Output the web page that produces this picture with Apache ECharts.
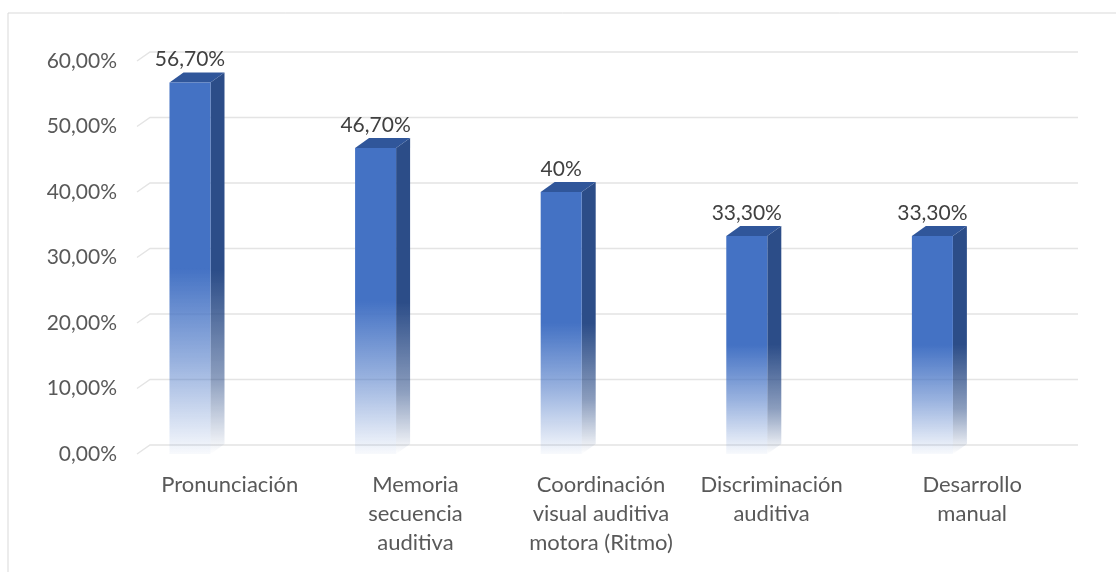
<!DOCTYPE html>
<html><head><meta charset="utf-8">
<script src="https://cdn.jsdelivr.net/npm/echarts@6/dist/echarts.min.js"></script>
<style>html,body{margin:0;padding:0;background:#fff}#c{width:1116px;height:572px}</style>
</head><body><div id="c"></div>
<script>
const categories = ['Pronunciación', 'Memoria\nsecuencia\nauditiva', 'Coordinación\nvisual auditiva\nmotora (Ritmo)', 'Discriminación\nauditiva', 'Desarrollo\nmanual'];
const values = [56.7, 46.7, 40, 33.3, 33.3];
const valueLabels = ['56,70%', '46,70%', '40%', '33,30%', '33,30%'];
const yTicks = [0, 10, 20, 30, 40, 50, 60];

const FONT = 'Lato, "Open Sans", sans-serif';
const DX = 14, DY = -10;

const catData = categories.map((c, i) => i === 3 ? {value: c, textStyle: {padding: [0, 30, 0, 0]}} : c);

const chart = echarts.init(document.getElementById('c'), null, {renderer: 'canvas'});
chart.setOption({
  animation: false,
  graphic: [{type: 'rect', shape: {x: 8, y: 13, width: 1200, height: 700}, style: {fill: 'none', stroke: '#d9d9d9', lineWidth: 1}, silent: true, z: -10}],
  grid: {left: 137, right: 51, top: 61, bottom: 118},
  xAxis: {
    type: 'category', data: catData,
    axisLine: {show: false}, axisTick: {show: false},
    axisLabel: {color: '#595959', fontFamily: FONT, fontSize: 22, lineHeight: 29, margin: 16, interval: 0}
  },
  yAxis: {
    type: 'value', min: 0, max: 60, interval: 10,
    axisLine: {show: false}, axisTick: {show: false}, splitLine: {show: false},
    axisLabel: {color: '#595959', fontFamily: FONT, fontSize: 21, margin: 20,
      formatter: v => v.toFixed(2).replace('.', ',') + '%'}
  },
  series: [
    {
      type: 'custom', z: 1, silent: true,
      data: yTicks.map(v => [0, v]),
      renderItem: function (params, api) {
        const cs = params.coordSys;
        const y = api.coord([0, api.value(1)])[1];
        return {
          type: 'polyline',
          shape: {points: [[cs.x, y], [cs.x + DX - 1, y + DY + 1], [cs.x + cs.width + DX - 1, y + DY + 1]]},
          style: {stroke: '#e4e4e4', lineWidth: 1.5, fill: null}
        };
      }
    },
    {
      type: 'custom', z: 5, silent: true,
      data: values.map((v, i) => [i, v]),
      renderItem: function (params, api) {
        const idx = api.value(0), val = api.value(1);
        const top = api.coord([idx, val]);
        const base = api.coord([idx, 0]);
        const band = api.size([1, 0])[0];
        const x0 = top[0] - band * 0.325;
        const w = band * 0.221;
        const x1 = x0 + w;
        const yt = top[1], yb = base[1];
        const frontGrad = new echarts.graphic.LinearGradient(0, 0, 0, 1, [
          {offset: 0, color: '#4472C4'},
          {offset: 0.5, color: '#4472C4'},
          {offset: 0.75, color: 'rgba(68,114,196,0.55)'},
          {offset: 1, color: 'rgba(68,114,196,0.04)'}
        ]);
        const sideGrad = new echarts.graphic.LinearGradient(0, 0, 0, 1, [
          {offset: 0, color: '#2C4D88'},
          {offset: 0.52, color: '#2C4D88'},
          {offset: 0.8, color: 'rgba(44,77,136,0.55)'},
          {offset: 1, color: 'rgba(44,77,136,0.0)'}
        ]);
        return {
          type: 'group',
          children: [
            {type: 'polygon', shape: {points: [[x1, yt], [x1 + DX, yt + DY], [x1 + DX, yb + DY], [x1, yb]]}, style: {fill: sideGrad}},
            {type: 'polygon', shape: {points: [[x0, yt], [x0 + DX, yt + DY], [x1 + DX, yt + DY], [x1, yt]]}, style: {fill: '#30569A'}},
            {type: 'rect', shape: {x: x0, y: yt, width: w, height: yb - yt}, style: {fill: frontGrad}},
            {type: 'text', style: {text: valueLabels[idx], x: x0 + w / 2, y: yt - 23, align: 'center', verticalAlign: 'middle',
              fill: '#404040', font: '21px ' + FONT}}
          ]
        };
      }
    }
  ]
});
</script></body></html>
